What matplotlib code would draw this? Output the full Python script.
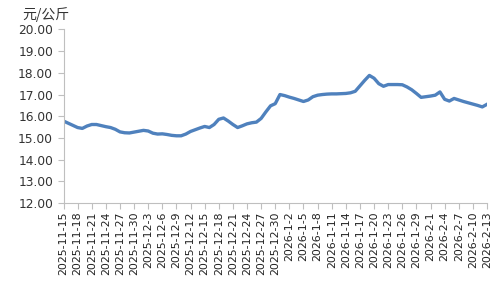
import matplotlib
matplotlib.use('Agg')
import matplotlib.pyplot as plt
import pandas as pd
import numpy as np

# daily price, 2025-11-15 .. 2026-2-13 (yuan / kg)
dates = pd.date_range('2025-11-15', '2026-02-13', freq='D')
prices = [
    15.78, 15.68, 15.58, 15.48, 15.44, 15.55, 15.62, 15.62, 15.57, 15.52,
    15.48, 15.40, 15.28, 15.24, 15.23, 15.27, 15.31, 15.35, 15.32, 15.22,
    15.18, 15.19, 15.16, 15.12, 15.10, 15.10, 15.18, 15.30, 15.38, 15.46,
    15.53, 15.48, 15.62, 15.86, 15.92, 15.78, 15.62, 15.48, 15.56, 15.65,
    15.70, 15.73, 15.90, 16.20, 16.48, 16.58, 17.00, 16.95, 16.88, 16.82,
    16.75, 16.68, 16.75, 16.90, 16.97, 17.00, 17.02, 17.03, 17.03, 17.04,
    17.05, 17.08, 17.15, 17.40, 17.65, 17.88, 17.75, 17.50, 17.38, 17.46,
    17.46, 17.46, 17.45, 17.35, 17.22, 17.05, 16.87, 16.90, 16.93, 16.97,
    17.12, 16.78, 16.70, 16.82, 16.75, 16.68, 16.62, 16.56, 16.50, 16.43,
    16.55,
]
labels = [f'{d.year}-{d.month}-{d.day}' for d in dates]
yticks = np.arange(12, 20.01, 1.0)

fig = plt.figure(figsize=(5, 3), dpi=100)
ax = fig.add_axes([0.127, 0.323, 0.847, 0.579])

x = np.arange(len(prices))
ax.plot(x, prices, color='#4f81bd', lw=2.4, solid_joinstyle='round')

ax.set_xlim(0, len(prices) - 1)
ax.set_ylim(12, 20)
ax.set_yticks(yticks)
ax.set_yticklabels([f'{v:.2f}' for v in yticks], fontsize=8.8, color='#333333')
ax.set_xticks(x[::3])
ax.set_xticklabels(labels[::3], rotation=90, fontsize=7.9, color='#222222')

for s in ['top', 'right']:
    ax.spines[s].set_visible(False)
for s in ['left', 'bottom']:
    ax.spines[s].set_color('#bfbfbf')
ax.tick_params(axis='both', color='#bfbfbf', length=4)
ax.tick_params(axis='x', pad=2)

fig.text(0.045, 0.935, '元/公斤', fontsize=10, color='#333333',
         family=['Noto Sans CJK SC', 'DejaVu Sans'])

fig.savefig('out.png', dpi=100)
